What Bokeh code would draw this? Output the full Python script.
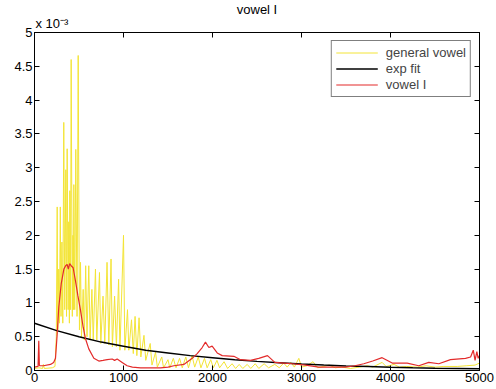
from bokeh.plotting import figure
from bokeh.models import Range1d, FixedTicker, LinearAxis, Legend, LegendItem, Title
from bokeh.embed import file_html
from bokeh.resources import INLINE

# ---------------- data (amplitudes in units of 1e-3) ----------------
title_text = "vowel I"
scale_text = "x 10\u207b\u00b3"
series_names = ["general vowel", "exp fit", "vowel I"]

x_ticks = [0, 1000, 2000, 3000, 4000, 5000]
x_tick_labels = ["0", "1000", "2000", "3000", "4000", "5000"]
y_ticks = [0, 0.5, 1, 1.5, 2, 2.5, 3, 3.5, 4, 4.5, 5]
y_tick_labels = ["0", "0.5", "1", "1.5", "2", "2.5", "3", "3.5", "4", "4.5", "5"]

general_hz = [0, 50, 90, 100, 110, 200, 230, 245, 255, 262, 272, 280, 290, 298, 308, 318,
              329, 340, 352, 360, 367, 378, 385, 392, 397, 405, 412, 425, 432, 437, 442, 452,
              464, 478, 491, 505, 517, 528, 547, 560, 575, 590, 610, 625, 645, 660, 685, 700,
              730, 745, 770, 790, 815, 835, 860, 875, 900, 920, 945, 960, 1000, 1015, 1045, 1060,
              1090, 1110, 1130, 1150, 1175, 1195, 1230, 1250, 1300, 1320, 1360, 1380, 1430, 1450,
              1500, 1520, 1560, 1590, 1630, 1660, 1700, 1730, 1770, 1800, 1840, 1870, 1910, 1940,
              1980, 2010, 2050, 2080, 2130, 2170, 2220, 2260, 2300, 2340, 2390, 2430, 2480, 2520,
              2580, 2630, 2700, 2750, 2800, 2840, 2880, 2920, 2970, 3000, 3060, 3130, 3180, 3250,
              3310, 3380, 3450, 3550, 3650, 3740, 3800, 3906, 3950, 4040, 4100, 4180, 4300, 4400,
              4500, 4600, 4750, 4850, 4950, 5000]
general_val = [0.03, 0.04, 0.03, 0.09, 0.03, 0.04, 0.06, 0.5, 2.42, 0.6, 1.5, 0.7, 2.42, 0.8, 1.9, 0.7,
               3.67, 0.9, 2.97, 0.8, 3.28, 0.9, 2.2, 0.7, 2.66, 0.9, 4.6, 0.8, 2.0, 0.9, 2.75, 0.9,
               3.27, 0.8, 4.66, 0.6, 1.6, 0.5, 1.2, 0.45, 1.55, 0.5, 1.55, 0.45, 1.2, 0.45, 1.5, 0.45,
               1.45, 0.4, 1.1, 0.4, 1.6, 0.38, 1.65, 0.35, 1.1, 0.35, 1.35, 0.3, 2.0, 0.3, 0.9, 0.3,
               0.75, 0.25, 0.8, 0.22, 0.78, 0.2, 0.52, 0.15, 0.4, 0.08, 0.27, 0.05, 0.2, 0.04,
               0.16, 0.04, 0.18, 0.04, 0.18, 0.04, 0.2, 0.04, 0.22, 0.05, 0.2, 0.04, 0.18, 0.04,
               0.16, 0.04, 0.15, 0.04, 0.13, 0.03, 0.1, 0.03, 0.09, 0.03, 0.09, 0.03, 0.1, 0.03,
               0.1, 0.04, 0.09, 0.04, 0.11, 0.05, 0.12, 0.05, 0.18, 0.05, 0.07, 0.13, 0.04, 0.06,
               0.08, 0.04, 0.05, 0.03, 0.05, 0.07, 0.05, 0.12, 0.06, 0.09, 0.05, 0.06, 0.05, 0.07,
               0.05, 0.06, 0.06, 0.07, 0.08, 0.11]

expfit_hz = [0, 250, 500, 750, 1000, 1250, 1500, 1750, 2000, 2250, 2500, 2750, 3000, 3250,
             3500, 3750, 4000, 4250, 4500, 4750, 5000]
expfit_val = [0.70, 0.59, 0.50, 0.42, 0.36, 0.30, 0.26, 0.22, 0.19, 0.16, 0.135, 0.115, 0.095,
              0.08, 0.068, 0.058, 0.049, 0.041, 0.035, 0.03, 0.025]

vowel_hz = [0, 40, 48, 55, 100, 180, 215, 236, 255, 273, 300, 330, 350, 367, 380, 395, 412, 434,
            460, 487, 517, 547, 573, 610, 667, 723, 770, 816, 873, 900, 929, 985, 1041, 1100,
            1191, 1300, 1416, 1500, 1566, 1678, 1772, 1828, 1884, 1921, 1959, 1996, 2053, 2109,
            2240, 2315, 2427, 2520, 2618, 2700, 2800, 2900, 3045, 3195, 3345, 3495, 3600, 3700,
            3800, 3906, 4019, 4187, 4318, 4430, 4543, 4674, 4843, 4900, 4930, 4950, 4970, 4985, 5000]
vowel_val = [0.05, 0.06, 0.44, 0.07, 0.07, 0.09, 0.12, 0.18, 0.54, 0.94, 1.28, 1.5, 1.55, 1.57, 1.5,
             1.58, 1.55, 1.52, 1.33, 1.11, 0.89, 0.64, 0.47, 0.32, 0.18, 0.14, 0.15, 0.16, 0.17,
             0.15, 0.17, 0.12, 0.07, 0.05, 0.04, 0.04, 0.04, 0.05, 0.07, 0.09, 0.18, 0.25, 0.34,
             0.42, 0.34, 0.36, 0.26, 0.22, 0.21, 0.16, 0.15, 0.18, 0.22, 0.12, 0.11, 0.1, 0.08,
             0.05, 0.05, 0.05, 0.07, 0.1, 0.14, 0.19, 0.11, 0.11, 0.07, 0.12, 0.1, 0.16, 0.18,
             0.2, 0.3, 0.15, 0.28, 0.18, 0.22]

# ---------------- figure ----------------
FONT = "Liberation Sans"
p = figure(width=496, height=389, output_backend="svg", toolbar_location=None, title=None,
           x_range=Range1d(0, 5000), y_range=Range1d(0, 5),
           min_border_left=34, min_border_right=17, min_border_top=32, min_border_bottom=19)
p.background_fill_color = "white"
p.border_fill_color = "white"
p.outline_line_color = "black"
p.outline_line_width = 1
p.xgrid.visible = False
p.ygrid.visible = False

def style_axis(ax, ticks, labels, show_labels):
    ax.ticker = FixedTicker(ticks=ticks)
    ax.major_tick_in = 5
    ax.major_tick_out = 0
    ax.minor_tick_in = 0
    ax.minor_tick_out = 0
    ax.axis_line_color = "black"
    ax.major_tick_line_color = "black"
    ax.major_label_text_font = FONT
    if show_labels:
        ax.major_label_overrides = {t: l for t, l in zip(ticks, labels)}
        ax.major_label_text_color = "black"
        ax.major_label_text_font_size = "13px"
        ax.major_label_standoff = 2
    else:
        ax.major_label_overrides = {t: "" for t in ticks}
        ax.major_label_text_color = None
        ax.major_label_text_font_size = "1px"
        ax.major_label_standoff = 0

style_axis(p.xaxis[0], x_ticks, x_tick_labels, True)
style_axis(p.yaxis[0], y_ticks, y_tick_labels, True)
top_ax = LinearAxis()
right_ax = LinearAxis()
style_axis(top_ax, x_ticks, x_tick_labels, False)
style_axis(right_ax, y_ticks, y_tick_labels, False)
p.add_layout(top_ax, "above")
p.add_layout(right_ax, "right")

r_gen = p.line(general_hz, general_val, line_color="#f3e436", line_width=1)
r_exp = p.line(expfit_hz, expfit_val, line_color="black", line_width=1.5)
r_vow = p.line(vowel_hz, vowel_val, line_color="#e32b2b", line_width=1.2)

legend = Legend(items=[LegendItem(label=series_names[0], renderers=[r_gen]),
                       LegendItem(label=series_names[1], renderers=[r_exp]),
                       LegendItem(label=series_names[2], renderers=[r_vow])],
                location="top_right")
legend.border_line_color = "black"
legend.border_line_width = 1
legend.background_fill_color = "white"
legend.background_fill_alpha = 1
legend.label_text_font = FONT
legend.label_text_font_size = "13px"
legend.label_height = 15
legend.glyph_height = 15
legend.glyph_width = 42
legend.label_standoff = 8
legend.spacing = 1
legend.padding = 4
legend.margin = 8
p.add_layout(legend)

p.add_layout(Title(text=scale_text, align="left", offset=1, standoff=4,
                   text_font=FONT, text_font_size="13px", text_font_style="normal",
                   text_color="black"), "above")
p.add_layout(Title(text=title_text, align="center", standoff=-11,
                   text_font=FONT, text_font_size="13px", text_font_style="normal",
                   text_color="black"), "above")

open("out.html", "w").write(file_html(p, INLINE))
